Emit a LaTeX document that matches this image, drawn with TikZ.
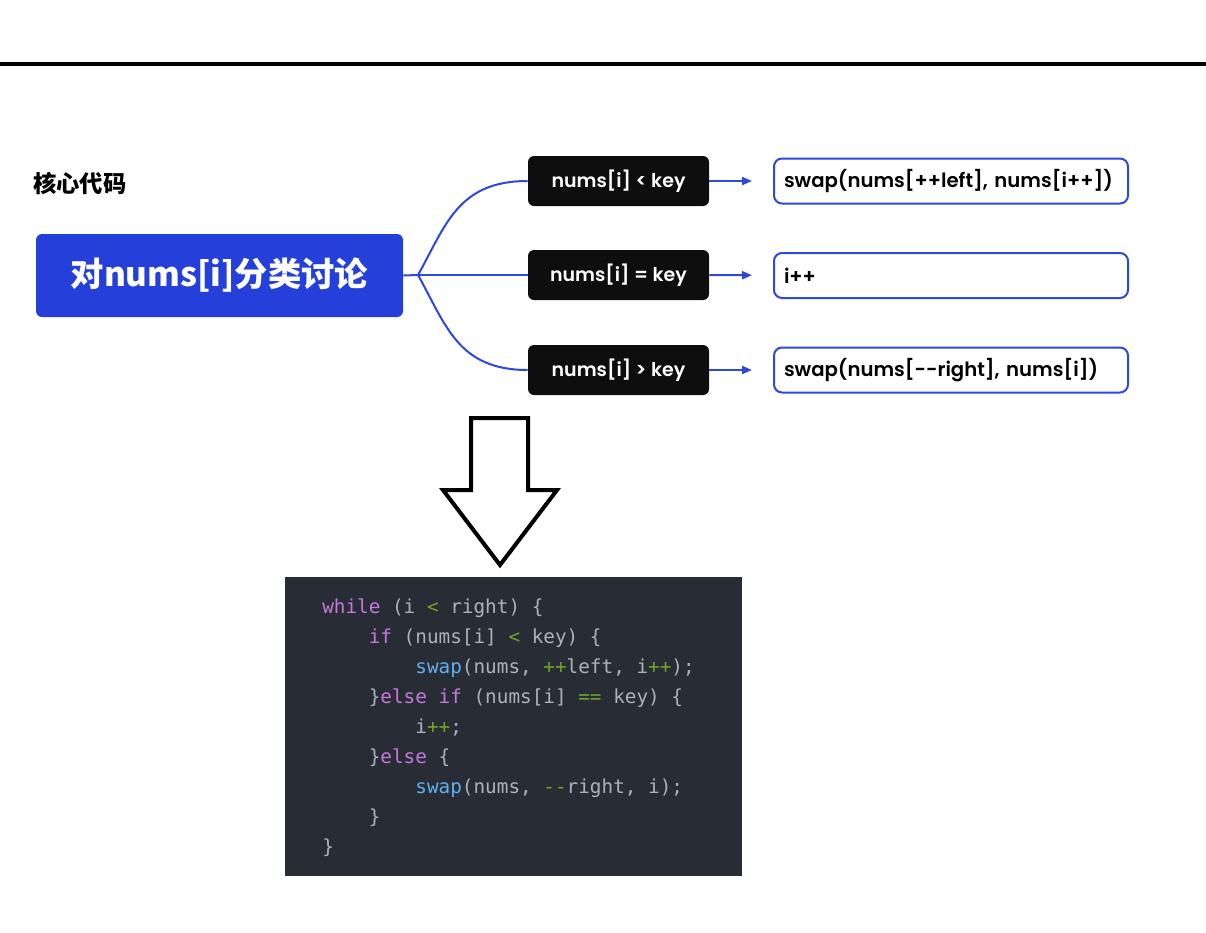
\documentclass[tikz,border=0pt]{standalone}
\usepackage{fontspec}
\setmainfont{Poppins}
\setmonofont{DejaVu Sans Mono}
\newfontfamily\cjk{Noto Sans CJK SC}
\newfontfamily\popsb{Poppins SemiBold}
\usepackage{xcolor}
\usetikzlibrary{arrows.meta, positioning}

\definecolor{mainblue}{HTML}{2540DA}
\definecolor{lineblue}{HTML}{2D48DA}
\definecolor{boxblack}{HTML}{0E0E0E}
\definecolor{codebg}{HTML}{282C34}
\definecolor{codetxt}{HTML}{ABB2BF}
\definecolor{codekw}{HTML}{C678DD}
\definecolor{codefn}{HTML}{61AFEF}
\definecolor{codeop}{HTML}{72A524}

\newcommand{\kw}[1]{\textcolor{codekw}{#1}}
\newcommand{\fn}[1]{\textcolor{codefn}{#1}}
\newcommand{\op}[1]{\textcolor{codeop}{#1}}

\begin{document}
\begin{tikzpicture}[
    x=0.75pt, y=-0.75pt,
    topic/.style={rectangle, rounded corners=4.5pt, fill=mainblue, text=white, minimum width=275.25pt, minimum height=62.25pt, font=\cjk\bfseries\fontsize{25}{30}\selectfont},
    cond/.style={rectangle, rounded corners=4.5pt, fill=boxblack, text=white, minimum width=135.75pt, minimum height=37.5pt, font=\popsb\fontsize{14.25}{17}\selectfont},
    result/.style={rectangle, rounded corners=6pt, draw=lineblue, line width=1.5pt, fill=white, text width=250.5pt, align=left, inner xsep=7.5pt, minimum height=33.75pt, font=\popsb\fontsize{14.75}{17}\selectfont},
    branch/.style={draw=lineblue, line width=1.5pt},
    arrow/.style={draw=lineblue, line width=1.5pt, -{Triangle[length=7.5pt,width=6pt]}, shorten >=15.75pt}
]
\useasboundingbox (0,0) rectangle (1206,932);

% header rule and title
\draw[line width=3pt] (0,64) -- (1206,64);
\node[anchor=west, inner sep=0pt, font=\cjk\bfseries\fontsize{17.5}{20}\selectfont] (title) at (33,184) {核心代码};

% mind map
\node[topic] (topic) at (219.5,275.5) {对nums[i]分类讨论};
\coordinate (split) at (418,275);

\node[cond] (lt) at (618.5,181) {nums[i] < key};
\node[cond] (eq) at (618.5,275) {nums[i] = key};
\node[cond] (gt) at (618.5,370) {nums[i] > key};

\node[result, anchor=west] (swapl) at (773,181) {swap(nums[++left], nums[i++])};
\node[result, anchor=west] (inc) at (773,275.5) {i++};
\node[result, anchor=west] (swapr) at (773,370) {swap(nums[\mbox{-}\mbox{-}right], nums[i])};

\draw[branch] (topic.east) -- (split);
\draw[branch] (split) .. controls +(28,-50) and +(-70,0) .. (lt.west);
\draw[branch] (split) -- (eq.west);
\draw[branch] (split) .. controls +(28,50) and +(-70,0) .. (gt.west);

\draw[arrow] (lt) -- (swapl);
\draw[arrow] (eq) -- (inc);
\draw[arrow] (gt) -- (swapr);

% hollow arrow down to the code
\draw[line width=3pt, miter limit=10] (471,418) -- (528,418) -- (528,490) -- (557,490) -- (500,565) -- (443,490) -- (471,490) -- cycle;

% code block
\node[rectangle, fill=codebg, anchor=north west, minimum width=342.75pt, minimum height=224.25pt, inner sep=0pt] (code) at (285,577) {};
\node[anchor=north west, inner sep=0pt, align=left, text=codetxt, font=\ttfamily\fontsize{14.5}{22.5}\selectfont] (src) at (322,598) {%
\kw{while} (i \op{<} right) \{\\
~~~~\kw{if} (nums[i] \op{<} key) \{\\
~~~~~~~~\fn{swap}(nums, \op{++}left, i\op{++});\\
~~~~\}\kw{else} \kw{if} (nums[i] \op{==} key) \{\\
~~~~~~~~i\op{++};\\
~~~~\}\kw{else} \{\\
~~~~~~~~\fn{swap}(nums, \op{--}right, i);\\
~~~~\}\\
\}};
\end{tikzpicture}
\end{document}
